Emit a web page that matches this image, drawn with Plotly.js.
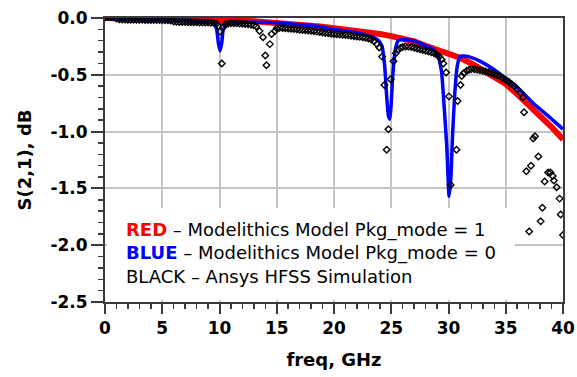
<!DOCTYPE html>
<html>
<head>
<meta charset="utf-8">
<script src="https://cdn.plot.ly/plotly-3.0.1.min.js"></script>
<style>html,body{margin:0;padding:0;background:#fff;}#chart{width:577px;height:377px;}</style>
</head>
<body>
<div id="chart"></div>
<script>
// Red: Modelithics model, Pkg_mode = 1
const redFreq = [0,1,2,3,4,5,6,7,8,9,10,11,12,13,14,15,16,17,18,19,20,21,22,23,24,25,26,27,28,29,30,31,32,33,34,35,36,37,38,39,40];
const redDb = [0,-0.001,-0.002,-0.003,-0.004,-0.006,-0.008,-0.010,-0.012,-0.014,-0.017,-0.020,-0.024,-0.029,-0.035,-0.041,-0.050,-0.059,-0.068,-0.078,-0.090,-0.100,-0.110,-0.120,-0.140,-0.160,-0.180,-0.205,-0.245,-0.280,-0.315,-0.350,-0.400,-0.455,-0.510,-0.580,-0.670,-0.765,-0.860,-0.960,-1.070];

// Blue: Modelithics model, Pkg_mode = 0
const blueFreq = [0,1,2,3,4,5,6,7,8,9,9.5,9.75,9.9,10.04,10.2,10.33,10.63,11,12,13,14,15,16,17,18,19,20,21,22,23,23.5,23.9,24.2,24.35,24.45,24.6,24.75,24.88,25.0,25.1,25.2,25.35,25.6,26.0,27.0,28.0,28.4,28.8,29.1,29.4,29.6,29.85,30.05,30.2,30.35,30.55,30.77,31.0,31.3,31.9,32.75,34.2,35.3,36.2,37.4,38.9,39.9,40];
const blueDb = [-0.005,-0.008,-0.010,-0.012,-0.013,-0.015,-0.017,-0.019,-0.022,-0.030,-0.045,-0.10,-0.22,-0.29,-0.22,-0.10,-0.057,-0.045,-0.038,-0.037,-0.038,-0.042,-0.050,-0.058,-0.066,-0.080,-0.100,-0.115,-0.130,-0.155,-0.175,-0.200,-0.250,-0.350,-0.450,-0.690,-0.860,-0.890,-0.750,-0.550,-0.420,-0.280,-0.200,-0.190,-0.200,-0.245,-0.260,-0.290,-0.340,-0.480,-0.750,-1.130,-1.570,-1.420,-1.040,-0.660,-0.420,-0.340,-0.335,-0.345,-0.380,-0.470,-0.556,-0.630,-0.750,-0.880,-0.970,-0.980];

// Black: Ansys HFSS simulation
const hfssFreq = [0,0.25,0.5,0.75,1,1.25,1.5,1.75,2,2.25,2.5,2.75,3,3.25,3.5,3.75,4,4.25,4.5,4.75,5,5.25,5.5,5.75,6,6.25,6.5,6.75,7,7.25,7.5,7.75,8,8.25,8.5,8.75,9,9.25,9.5,9.75,
9.9,10.05,10.2,10.35,10.5,10.75,11,11.25,11.5,11.75,12,12.25,12.5,12.75,13,13.2,13.5,13.8,14.0,14.1,14.4,14.55,14.85,15,15.25,15.5,15.75,16,16.25,16.5,16.75,17,17.25,17.5,17.75,18,18.25,18.5,18.75,19,19.25,19.5,19.75,20,20.25,20.5,20.75,21,21.25,21.5,21.75,22,22.25,22.5,22.75,23,23.25,23.5,23.75,23.95,
24.2,24.4,24.6,24.75,24.95,25.2,25.4,25.6,25.8,26,26.25,26.5,26.75,27,27.25,27.5,27.75,28,28.25,28.5,28.75,29,29.2,29.4,29.55,29.8,30.04,30.19,30.7,30.8,31.05,31.15,31.35,31.6,31.8,32,32.25,32.5,32.75,33,33.25,33.5,33.75,34,34.25,34.5,34.75,35,35.25,35.5,35.75,36,36.3,36.5,36.6,36.8,37.05,37.2,37.4,37.55,37.85,38.05,38.2,38.4,38.7,38.9,39.1,39.2,39.45,39.7,39.8,40];
const hfssDb = [0.006,0.008,0.008,0.006,-0.005,-0.012,-0.014,-0.014,-0.015,-0.015,-0.015,-0.016,-0.016,-0.016,-0.017,-0.017,-0.017,-0.018,-0.018,-0.018,-0.019,-0.019,-0.020,-0.022,-0.030,-0.034,-0.035,-0.036,-0.036,-0.037,-0.037,-0.038,-0.038,-0.039,-0.039,-0.040,-0.040,-0.041,-0.043,-0.050,
-0.070,-0.120,-0.400,-0.080,-0.055,-0.048,-0.046,-0.046,-0.047,-0.048,-0.050,-0.052,-0.055,-0.060,-0.065,-0.075,-0.115,-0.170,-0.330,-0.415,-0.230,-0.140,-0.115,-0.090,-0.086,-0.088,-0.090,-0.092,-0.095,-0.097,-0.100,-0.103,-0.106,-0.108,-0.110,-0.113,-0.116,-0.120,-0.124,-0.128,-0.132,-0.135,-0.138,-0.140,-0.143,-0.145,-0.148,-0.150,-0.153,-0.157,-0.160,-0.163,-0.166,-0.170,-0.173,-0.180,-0.190,-0.205,-0.230,-0.260,
-0.340,-0.590,-1.160,-0.980,-0.540,-0.380,-0.310,-0.280,-0.265,-0.255,-0.250,-0.252,-0.256,-0.262,-0.268,-0.275,-0.282,-0.288,-0.295,-0.302,-0.310,-0.325,-0.340,-0.365,-0.400,-0.480,-0.690,-1.470,-1.160,-0.730,-0.590,-0.510,-0.485,-0.465,-0.455,-0.450,-0.452,-0.455,-0.460,-0.465,-0.470,-0.478,-0.485,-0.495,-0.505,-0.515,-0.530,-0.545,-0.560,-0.580,-0.600,-0.625,-0.660,-0.700,-0.830,-1.350,-1.880,-1.300,-1.060,-1.040,-1.220,-1.790,-1.670,-1.440,-1.360,-1.360,-1.390,-1.430,-1.490,-1.590,-1.730,-1.910];

const xTicks = [0,5,10,15,20,25,30,35,40];
const xTickText = ['0','5','10','15','20','25','30','35','40'];
const yTicks = [0,-0.5,-1,-1.5,-2,-2.5];
const yTickText = ['0.0','-0.5','-1.0','-1.5','-2.0','-2.5'];

const legendLines = [
  '<b><span style="color:#ff0000">RED</span></b> \u2013 Modelithics Model Pkg_mode = 1',
  '<b><span style="color:#0000ff">BLUE</span></b> \u2013 Modelithics Model Pkg_mode = 0',
  'BLACK \u2013 Ansys HFSS Simulation'
];

const FONT = 'DejaVu Sans, Arial, sans-serif';
const axisCol = '#3a3a3a';
const gridCol = '#c4c4c4';

const traces = [
  {x: redFreq, y: redDb, mode: 'lines', line: {color: '#ff0000', width: 6}, hoverinfo: 'skip'},
  {x: blueFreq, y: blueDb, mode: 'lines', line: {color: '#0000ff', width: 3.5, shape: 'spline', smoothing: 0.5}, hoverinfo: 'skip'},
  {x: hfssFreq, y: hfssDb, mode: 'markers', marker: {symbol: 'diamond-open', size: 5, color: '#000000', line: {width: 1.4, color: '#000000'}}, hoverinfo: 'skip'}
];

const legendY = [0.252, 0.171, 0.090];
const annotations = legendLines.map((t, i) => ({
  xref: 'paper', yref: 'paper', x: 0.042, y: legendY[i], xanchor: 'left', yanchor: 'middle',
  text: t, showarrow: false, font: {family: FONT, size: 18, color: '#000000'}
}));

const layout = {
  width: 577, height: 377,
  margin: {l: 105, r: 14, t: 18, b: 75},
  paper_bgcolor: '#ffffff', plot_bgcolor: '#ffffff',
  showlegend: false,
  xaxis: {
    range: [0, 40], tickmode: 'array', tickvals: xTicks, ticktext: xTickText,
    showgrid: true, gridcolor: gridCol, gridwidth: 2, zeroline: false,
    showline: true, linecolor: axisCol, linewidth: 2, mirror: true,
    ticks: 'outside', ticklen: 10, tickwidth: 2, tickcolor: axisCol,
    minor: {tickmode: 'linear', tick0: 0, dtick: 1, ticks: 'outside', ticklen: 5, tickwidth: 1.5, tickcolor: axisCol, showgrid: false},
    tickfont: {family: FONT, size: 17, color: '#000000', weight: 'bold'},
    title: {text: 'freq, GHz', font: {family: FONT, size: 18, color: '#000000', weight: 'bold'}, standoff: 16}
  },
  yaxis: {
    range: [-2.5, 0], tickmode: 'array', tickvals: yTicks, ticktext: yTickText,
    showgrid: true, gridcolor: gridCol, gridwidth: 2, zeroline: false,
    showline: true, linecolor: axisCol, linewidth: 2, mirror: true,
    ticks: 'outside', ticklen: 12, tickwidth: 2, tickcolor: axisCol,
    minor: {tickmode: 'linear', tick0: 0, dtick: 0.1, ticks: 'outside', ticklen: 5, tickwidth: 1.5, tickcolor: axisCol, showgrid: false},
    tickfont: {family: FONT, size: 17, color: '#000000', weight: 'bold'},
    title: {text: 'S(2,1), dB', font: {family: FONT, size: 18, color: '#000000', weight: 'bold'}, standoff: 14}
  },
  shapes: [{
    type: 'rect', xref: 'paper', yref: 'paper', x0: 0.004, x1: 0.895, y0: 0.006, y1: 0.33,
    fillcolor: '#ffffff', line: {width: 0}, layer: 'above'
  }],
  annotations: annotations
};

Plotly.newPlot('chart', traces, layout, {staticPlot: true, displayModeBar: false});
</script>
</body>
</html>
